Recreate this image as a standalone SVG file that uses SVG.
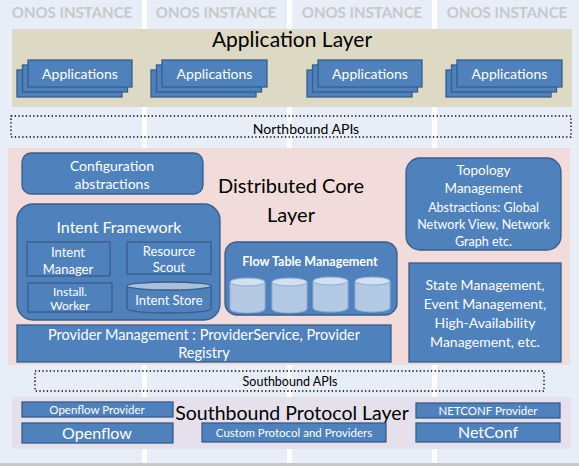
<svg xmlns="http://www.w3.org/2000/svg" width="579" height="466" viewBox="0 0 579 466">
<style>
text{font-family:Lato,"Liberation Sans","DejaVu Sans",sans-serif;text-anchor:middle}
.col{fill:#e7eef8}
.inst{fill:#c6c8cb;font-weight:bold;font-size:15px}
.blue{fill:#4f81bd;stroke:#385d8a;stroke-width:1.3}
.w{fill:#ffffff}
.k{fill:#000000}
.dot{fill:none;stroke:#000;stroke-width:1.4;stroke-dasharray:1.3 2.4}
.cyl{fill:#b4c9e4;stroke:#8fadd4;stroke-width:1}
.cyltop{fill:#d3e0f0;stroke:#8fadd4;stroke-width:1}
</style>
<rect width="579" height="466" fill="#ffffff"/>
<g id="background">
<rect class="col" x="0" y="0" width="142" height="463"/>
<rect class="col" x="147" y="0" width="140" height="463"/>
<rect class="col" x="292" y="0" width="140" height="463"/>
<rect class="col" x="437" y="0" width="142" height="463"/>
<rect x="0" y="463" width="579" height="3" fill="#c8c8c8"/>
<text class="inst" x="72" y="18">ONOS INSTANCE</text>
<text class="inst" x="216" y="18">ONOS INSTANCE</text>
<text class="inst" x="362" y="18">ONOS INSTANCE</text>
<text class="inst" x="507" y="18">ONOS INSTANCE</text>
</g>
<g id="application-layer">
<rect x="12" y="29" width="560" height="78" fill="#ddd9c4"/>
<text class="k" x="292" y="47" font-size="21">Application Layer</text>
</g>
<g id="apps1">
<rect class="blue" x="17" y="70" width="105" height="27"/>
<rect class="blue" x="22.5" y="65" width="105" height="27"/>
<rect class="blue" x="28" y="60" width="104" height="27"/>
<text class="w" x="80" y="79" font-size="14">Applications</text>
</g>
<g id="apps2">
<rect class="blue" x="151" y="70" width="105" height="27"/>
<rect class="blue" x="156.5" y="65" width="105" height="27"/>
<rect class="blue" x="162" y="60" width="105" height="27"/>
<text class="w" x="214.5" y="79" font-size="14">Applications</text>
</g>
<g id="apps3">
<rect class="blue" x="307" y="70" width="105" height="27"/>
<rect class="blue" x="312.5" y="65" width="105" height="27"/>
<rect class="blue" x="318" y="60" width="104" height="27"/>
<text class="w" x="370" y="79" font-size="14">Applications</text>
</g>
<g id="apps4">
<rect class="blue" x="446" y="70" width="105" height="27"/>
<rect class="blue" x="451.5" y="65" width="105" height="27"/>
<rect class="blue" x="457" y="60" width="105" height="27"/>
<text class="w" x="509.5" y="79" font-size="14">Applications</text>
</g>
<g id="northbound">
<rect class="dot" x="11" y="116" width="560" height="21"/>
<text class="k" x="306" y="134" font-size="14">Northbound APIs</text>
</g>
<g id="core-layer">
<rect x="8" y="148" width="562" height="217" fill="#f2dcdb"/>
<text class="k" x="291" y="193" font-size="20">Distributed Core</text>
<text class="k" x="291" y="222" font-size="20">Layer</text>
</g>
<g id="config">
<rect class="blue" x="22" y="153" width="181" height="41" rx="9"/>
<text class="w" x="112" y="171" font-size="14">Configuration</text>
<text class="w" x="112" y="189" font-size="14">abstractions</text>
</g>
<g id="intent-framework">
<rect class="blue" x="17" y="204" width="203" height="116" rx="16"/>
<text class="w" x="119" y="233" font-size="16">Intent Framework</text>
<rect class="blue" x="27" y="242" width="83" height="34"/>
<text class="w" x="68" y="257" font-size="13">Intent</text>
<text class="w" x="68" y="274" font-size="13">Manager</text>
<rect class="blue" x="127" y="242" width="84" height="32"/>
<text class="w" x="169" y="256" font-size="13">Resource</text>
<text class="w" x="169" y="272" font-size="13">Scout</text>
<rect class="blue" x="28" y="283" width="84" height="29"/>
<text class="w" x="70" y="296" font-size="12">Install.</text>
<text class="w" x="70" y="310" font-size="12">Worker</text>
<path class="blue" d="M127,286 v23 a42,4 0 0 0 84,0 v-23"/>
<ellipse cx="169" cy="286" rx="42" ry="4" fill="#a9bfdc" stroke="#385d8a" stroke-width="1.3"/>
<text class="w" x="169" y="305" font-size="13">Intent Store</text>
</g>
<g id="flow-table">
<rect class="blue" x="225" y="242" width="172" height="73" rx="12"/>
<text class="w" x="310" y="266" font-size="12.5" font-weight="bold">Flow Table Management</text>
<path class="cyl" d="M230,282 v27 a17.5,4 0 0 0 35,0 v-27"/>
<ellipse class="cyltop" cx="247.5" cy="282" rx="17.5" ry="4"/>
<path class="cyl" d="M272,282 v27 a17.5,4 0 0 0 35,0 v-27"/>
<ellipse class="cyltop" cx="289.5" cy="282" rx="17.5" ry="4"/>
<path class="cyl" d="M313,281 v27 a17.5,4 0 0 0 35,0 v-27"/>
<ellipse class="cyltop" cx="330.5" cy="281" rx="17.5" ry="4"/>
<path class="cyl" d="M355,281 v27 a17.5,4 0 0 0 35,0 v-27"/>
<ellipse class="cyltop" cx="372.5" cy="281" rx="17.5" ry="4"/>
</g>
<g id="topology">
<rect class="blue" x="406" y="158" width="155" height="92" rx="14"/>
<text class="w" x="483.5" y="175" font-size="13.5">Topology</text>
<text class="w" x="483.5" y="193" font-size="13.5">Management</text>
<text class="w" x="483.5" y="212" font-size="12.5">Abstractions: Global</text>
<text class="w" x="483.5" y="229" font-size="12.5">Network View, Network</text>
<text class="w" x="483.5" y="246" font-size="12.5">Graph etc.</text>
</g>
<g id="state">
<rect class="blue" x="409" y="263" width="152" height="99"/>
<text class="w" x="485" y="290" font-size="14">State Management,</text>
<text class="w" x="485" y="309" font-size="14">Event Management,</text>
<text class="w" x="485" y="328" font-size="14">High-Availability</text>
<text class="w" x="485" y="347" font-size="14">Management, etc.</text>
</g>
<g id="provider-management">
<rect class="blue" x="17" y="325" width="374" height="37"/>
<text class="w" x="204" y="340" font-size="14.5">Provider Management : ProviderService, Provider</text>
<text class="w" x="204" y="358" font-size="14.5">Registry</text>
</g>
<g id="southbound-apis">
<rect class="dot" x="35" y="371" width="509" height="20"/>
<text class="k" x="290" y="386" font-size="12.5">Southbound APIs</text>
</g>
<g id="southbound-layer">
<rect x="12" y="397" width="559" height="52" fill="#e5e0ec"/>
<text class="k" x="292" y="420" font-size="19.5">Southbound Protocol Layer</text>
</g>
<g id="openflow-provider">
<rect class="blue" x="22" y="402" width="151" height="15"/>
<text class="w" x="97" y="414" font-size="11.5">Openflow Provider</text>
</g>
<g id="openflow">
<rect class="blue" x="22" y="423" width="151" height="20"/>
<text class="w" x="97" y="438.5" font-size="16">Openflow</text>
</g>
<g id="custom">
<rect class="blue" x="202" y="423" width="184" height="19"/>
<text class="w" x="294" y="436.5" font-size="11.5">Custom Protocol and Providers</text>
</g>
<g id="netconf-provider">
<rect class="blue" x="416" y="403" width="144" height="15"/>
<text class="w" x="488" y="415" font-size="11.5">NETCONF Provider</text>
</g>
<g id="netconf">
<rect class="blue" x="416" y="423" width="144" height="19"/>
<text class="w" x="488" y="438" font-size="16">NetConf</text>
</g>
<g id="connectors"></g>
</svg>
